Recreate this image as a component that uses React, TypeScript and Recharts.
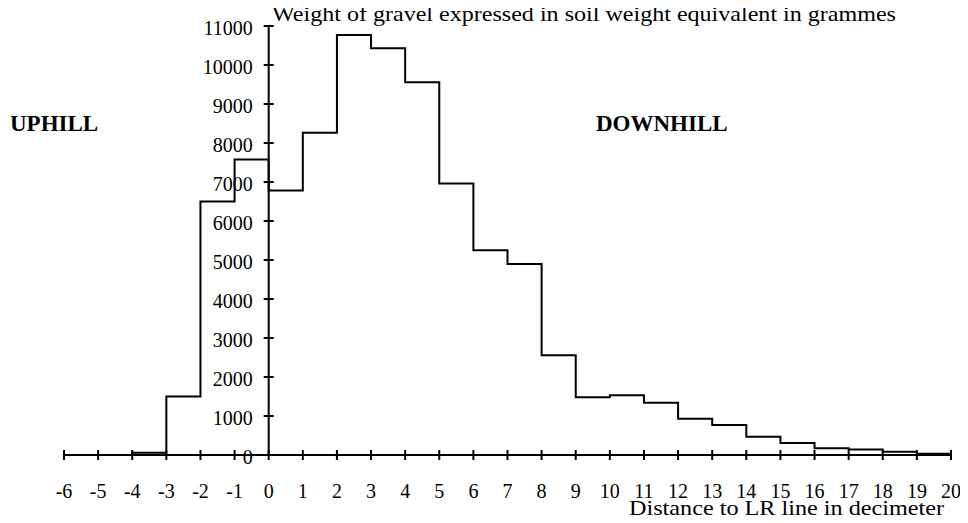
import React from "react"
import {
  LineChart,
  Line,
  XAxis,
  YAxis,
  ReferenceLine,
  ReferenceDot,
} from "recharts"

// distance to LR line (dm), start of each 1 dm bin; last entry closes the step at 20
const distances = [-6, -5, -4, -3, -2, -1, 0, 1, 2, 3, 4, 5, 6, 7, 8, 9, 10, 11, 12, 13, 14, 15, 16, 17, 18, 19, 20]
// gravel weight in soil weight equivalent (g)
const gravelWeight = [0, 0, 60, 1500, 6500, 7580, 6780, 8260, 10770, 10430, 9560, 6960, 5250, 4900, 2560, 1480, 1530, 1340, 930, 770, 470, 310, 170, 140, 85, 30, 30]

const xTicks = [-6, -5, -4, -3, -2, -1, 0, 1, 2, 3, 4, 5, 6, 7, 8, 9, 10, 11, 12, 13, 14, 15, 16, 17, 18, 19, 20]
const yTicks = [0, 1000, 2000, 3000, 4000, 5000, 6000, 7000, 8000, 9000, 10000, 11000]

const data = distances.map((x, i) => ({ x, w: gravelWeight[i] }))

const FONT = "Liberation Serif, DejaVu Serif, serif"
const textStyle = { fontFamily: FONT }

function XTick(props: any) {
  const { x, y, payload } = props
  return (
    <g>
      <line x1={x} x2={x} y1={y - 5} y2={y + 5} stroke="#000" strokeWidth={2} />
      <text x={x} y={y + 43} textAnchor="middle" fontSize={20} fill="#000" style={textStyle}>
        {payload.value}
      </text>
    </g>
  )
}

function yTickShape(value: number) {
  return (props: any) => {
    const { cx, cy } = props
    return (
      <g>
        <line x1={cx - 5} x2={cx + 5} y1={cy} y2={cy} stroke="#000" strokeWidth={2} />
        <text x={cx - 16} y={cy + 9} textAnchor="end" fontSize={20} fill="#000" style={textStyle}>
          {value}
        </text>
      </g>
    )
  }
}

export default function App() {
  return (
    <div style={{ position: "relative", width: 952, height: 515, fontFamily: FONT }}>
      <LineChart
        width={952}
        height={515}
        data={data}
        margin={{ top: 18, right: 9, left: 56, bottom: 0 }}
      >
        <XAxis
          type="number"
          dataKey="x"
          domain={[-6, 20]}
          ticks={xTicks}
          interval={0}
          height={68}
          tickSize={0}
          tickMargin={0}
          tickLine={false}
          axisLine={{ stroke: "#000", strokeWidth: 2 }}
          tick={<XTick />}
        />
        <YAxis hide domain={[0, 11000]} ticks={yTicks} />
        <ReferenceLine x={0} stroke="#000" strokeWidth={2} />
        {yTicks.map((v) => (
          <ReferenceDot key={v} x={0} y={v} r={0} shape={yTickShape(v)} />
        ))}
        <Line
          type="stepAfter"
          dataKey="w"
          stroke="#000"
          strokeWidth={2}
          dot={false}
          isAnimationActive={false}
        />
      </LineChart>
      <svg
        width={952}
        height={515}
        style={{ position: "absolute", left: 0, top: 0, overflow: "visible", pointerEvents: "none", ...textStyle }}
      >
        <text x={264} y={13} fontSize={22} textLength={624} lengthAdjust="spacingAndGlyphs" fill="#000">
          Weight of gravel expressed in soil weight equivalent in grammes
        </text>
        <text x={2} y={123} fontSize={23} fontWeight="bold" fill="#000">
          UPHILL
        </text>
        <text x={588} y={123} fontSize={23} fontWeight="bold" fill="#000">
          DOWNHILL
        </text>
        <text x={621} y={507} fontSize={22} textLength={315} lengthAdjust="spacingAndGlyphs" fill="#000">
          Distance to LR line in decimeter
        </text>
      </svg>
    </div>
  )
}
